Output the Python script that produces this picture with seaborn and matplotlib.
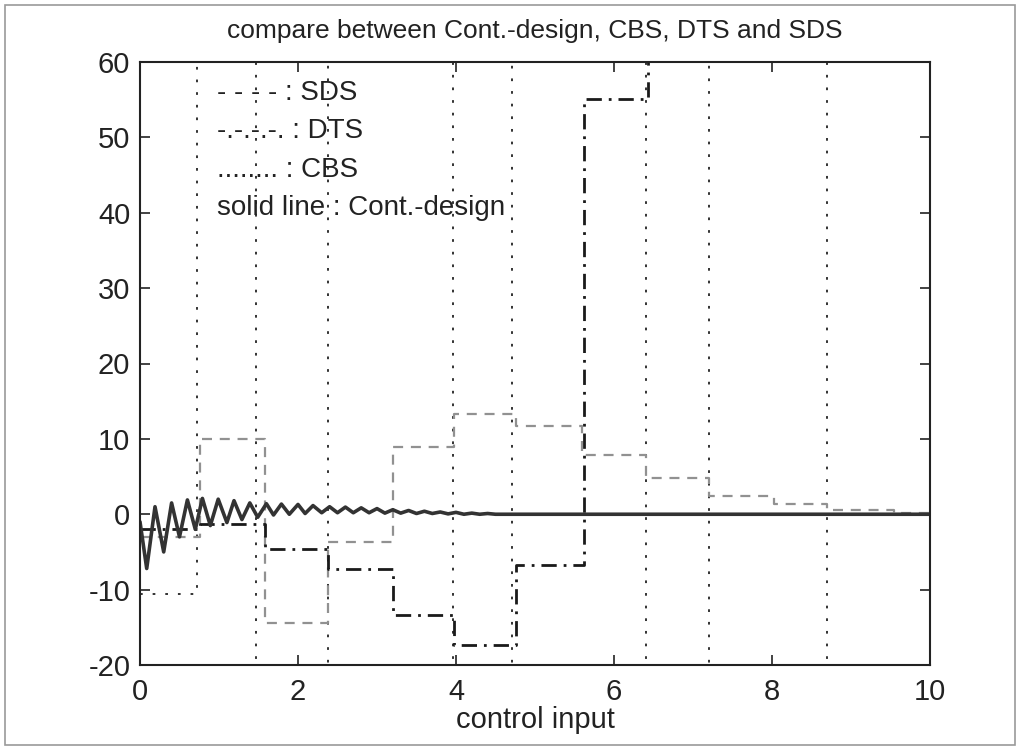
import pandas as pd
import matplotlib.pyplot as plt
import matplotlib.patches as patches
import seaborn as sns

# sample instants (s) where each staircase signal changes, and the value held after it
sds_t = [0, 0.76, 1.58, 2.38, 3.20, 3.97, 4.76, 5.59, 6.40, 7.20, 8.02, 8.70, 9.55]
sds_u = [-3.0, 10.0, -14.4, -3.7, 8.9, 13.3, 11.7, 7.9, 4.8, 2.4, 1.3, 0.6, 0.1]

dts_t = [0, 0.76, 1.58, 2.38, 3.20, 3.97, 4.76, 5.62, 6.43]
dts_u = [-1.9, -1.35, -4.65, -7.3, -13.4, -17.3, -6.7, 55.1, 200]

# CBS swings far outside the window after the first sample
cbs_t = [0, 0.72, 1.47, 2.38, 3.96, 4.71, 6.40, 7.20, 8.69]
cbs_u = [-10.6, 200, -200, 200, -200, 200, -200, 200, -200]

# continuous design: turning points of the decaying oscillation
cont_t = [0.0, 0.085, 0.19, 0.30, 0.40, 0.50, 0.60, 0.70, 0.79, 0.89, 0.99,
          1.10, 1.19, 1.29, 1.39, 1.49, 1.60, 1.69, 1.79, 1.89, 2.00, 2.09,
          2.19, 2.30, 2.40, 2.50, 2.60, 2.70, 2.80, 2.90, 3.00, 3.10, 3.20,
          3.30, 3.40, 3.50, 3.60, 3.70, 3.80, 3.90, 4.00, 4.10, 4.20, 4.30,
          4.40, 4.50, 10.0]
cont_u = [-1.0, -7.2, 1.0, -5.0, 1.5, -3.0, 1.9, -2.0, 2.1, -1.5, 2.0,
          -1.1, 1.8, -0.7, 1.5, -0.4, 1.4, -0.1, 1.35, 0.0, 1.3, 0.1,
          1.15, 0.2, 1.0, 0.2, 0.95, 0.2, 0.85, 0.2, 0.75, 0.15, 0.6,
          0.15, 0.5, 0.1, 0.4, 0.1, 0.3, 0.05, 0.25, 0.0, 0.15, 0.0,
          0.1, 0.0, 0.0]

legend_lines = ["- - - - : SDS", "-.-.-.-. : DTS", "........ : CBS",
                "solid line : Cont.-design"]
legend_y = [55.9, 50.9, 45.7, 40.6]

t_end = 10.0


def stairs(t, u):
    # hold the last value up to the end of the run
    return pd.DataFrame({"t": list(t) + [t_end], "u": list(u) + [u[-1]]})


sns.set_style("ticks")
plt.rcParams["font.family"] = ["Liberation Sans", "DejaVu Sans"]
plt.rcParams["axes.unicode_minus"] = False
ink = "#222222"

fig = plt.figure(figsize=(10.21, 7.5), dpi=100)
ax = fig.add_axes([140 / 1021, 85 / 750, 790 / 1021, 603 / 750])

sns.lineplot(data=stairs(cbs_t, cbs_u), x="t", y="u", ax=ax, drawstyle="steps-post",
             estimator=None, sort=False, color=ink, lw=1.3,
             linestyle=(0, (1.5, 5.5)))
sns.lineplot(data=stairs(sds_t, sds_u), x="t", y="u", ax=ax, drawstyle="steps-post",
             estimator=None, sort=False, color="#919191", lw=1.6,
             linestyle=(0, (4.5, 3.5)))
sns.lineplot(data=stairs(dts_t, dts_u), x="t", y="u", ax=ax, drawstyle="steps-post",
             estimator=None, sort=False, color="#1a1a1a", lw=2.0,
             linestyle=(0, (5.5, 2.5, 1.0, 2.5)))
sns.lineplot(x=cont_t, y=cont_u, ax=ax, estimator=None, sort=False,
             color="#333333", lw=2.6, solid_joinstyle="round", solid_capstyle="round")

for txt, yy in zip(legend_lines, legend_y):
    ax.text(0.97, yy, txt, fontsize=20, va="center", ha="left", color=ink)

ax.set_xlim(0, 10)
ax.set_ylim(-20, 60)
ax.set_xticks(range(0, 11, 2))
ax.set_yticks(range(-20, 61, 10))
ax.tick_params(direction="in", length=7, width=1.2, top=True, right=True,
               labelsize=21, pad=7, colors=ink)
ax.tick_params(axis="x", pad=9)
for sp in ax.spines.values():
    sp.set_linewidth(1.5)
    sp.set_color(ink)

ax.set_title("compare between Cont.-design, CBS, DTS and SDS", fontsize=19, pad=17,
             color=ink)
ax.set_xlabel("control input", fontsize=21, labelpad=0, color=ink)
ax.set_ylabel("")

# border of the scanned page
fig.patches.append(patches.Rectangle((5 / 1021, 5 / 750), 1010 / 1021, 740 / 750,
                                     transform=fig.transFigure, fill=False,
                                     edgecolor="#9a9a9a", lw=1.2))

fig.savefig("out.png", dpi=100)
